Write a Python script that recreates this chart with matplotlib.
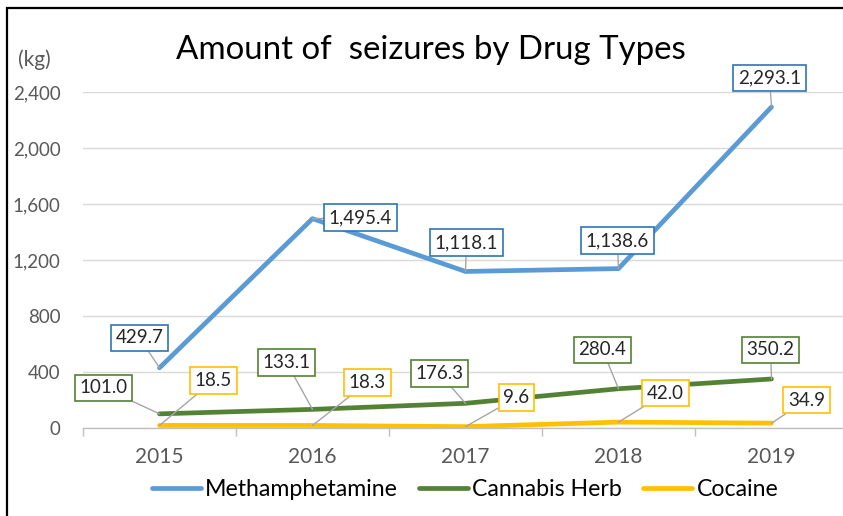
"""Amount of seizures by drug type, 2015-2019 (Excel-style line chart)."""

import numpy as np
import matplotlib
matplotlib.use("Agg")
import matplotlib.pyplot as plt
from matplotlib.patches import Rectangle

plt.rcParams.update({
    "font.family": ["Lato", "DejaVu Sans"],
    "figure.dpi": 100,
})

# Data
years = ["2015", "2016", "2017", "2018", "2019"]
methamphetamine = [429.7, 1495.4, 1118.1, 1138.6, 2293.1]
cannabis_herb = [101.0, 133.1, 176.3, 280.4, 350.2]
cocaine = [18.5, 18.3, 9.6, 42.0, 34.9]
y_ticks = [0, 400, 800, 1200, 1600, 2000, 2400]

# Style
COLORS = {"meth": "#5B9BD5", "cannabis": "#548235", "cocaine": "#FFC000"}
BOX_EDGES = {"meth": "#2E75B6", "cannabis": "#548235", "cocaine": "#FFC000"}
LEADER = "#A6A6A6"

# label offsets (pixels) from each data point to the centre of its box
label_offsets = {
    "meth": [(-20, 30), (48, 1), (1, 29), (-1, 28), (-2, 29)],
    "cannabis": [(-56, 26), (-26, 47), (-26, 30), (-16, 39), (-1, 29)],
    "cocaine": [(54, 45), (55, 43), (51, 29), (47, 29), (35, 23)],
}

W, H = 843, 516
fig = plt.figure(figsize=(W / 100, H / 100), dpi=100)
ax = fig.add_axes([83 / W, (H - 428) / H, (848 - 83) / W, (428 - 92) / H])

x = np.arange(len(years))
series = [
    ("meth", "Methamphetamine", methamphetamine),
    ("cannabis", "Cannabis Herb", cannabis_herb),
    ("cocaine", "Cocaine", cocaine),
]
for key, name, vals in series:
    ax.plot(x, vals, color=COLORS[key], lw=3.4, label=name,
            solid_capstyle="round", solid_joinstyle="round", zorder=3)

# Data labels with leader lines
for key, name, vals in series:
    for i, v in enumerate(vals):
        ax.annotate(
            f"{v:,.1f}",
            xy=(i, v),
            xytext=label_offsets[key][i],
            textcoords="offset pixels",
            ha="center", va="center",
            fontsize=13.5, color="#262626",
            bbox=dict(boxstyle="square,pad=0.25", fc="white",
                      ec=BOX_EDGES[key], lw=1.2),
            arrowprops=dict(arrowstyle="-", color=LEADER, lw=1,
                            shrinkA=0, shrinkB=0),
            zorder=5,
        )

ax.set_xlim(-0.5, len(years) - 0.5)
ax.set_ylim(0, 2400)

# category boundaries get tick marks, labels sit in the middle
ax.set_xticks(np.arange(-0.5, len(years), 1.0))
ax.set_xticklabels([])
ax.set_xticks(x, minor=True)
ax.set_xticklabels(years, minor=True, fontsize=15, color="#595959")
ax.tick_params(axis="x", which="major", length=6, width=1, color="#BFBFBF")
ax.tick_params(axis="x", which="minor", length=0, pad=14)

ax.set_yticks(y_ticks)
ax.set_yticklabels([f"{t:,}" for t in y_ticks], fontsize=13.5, color="#595959")
ax.tick_params(axis="y", length=0, pad=16)

ax.grid(axis="y", color="#D9D9D9", lw=1)
ax.set_axisbelow(True)
for side in ["left", "right", "top"]:
    ax.spines[side].set_visible(False)
ax.spines["bottom"].set_color("#BFBFBF")
ax.spines["bottom"].set_linewidth(1)

fig.text(431 / W, 1 - 50 / H, "Amount of  seizures by Drug Types",
         ha="center", va="center", fontsize=23.8, color="black")
fig.text(34 / W, 1 - 60 / H, "(kg)", ha="center", va="center",
         fontsize=15, color="#595959")

fig.legend(loc="center", bbox_to_anchor=(465 / W, 1 - 490 / H), ncol=3,
           frameon=False, fontsize=16.7, handlelength=2.1, handletextpad=0.2,
           columnspacing=0.9, borderaxespad=0)

# chart frame (right and bottom edges fall outside the picture)
fig.patches.append(Rectangle((7 / W, -0.1), 1.2, 1 - 8 / H + 0.1,
                             transform=fig.transFigure, fill=False,
                             ec="black", lw=1.6, clip_on=False))

fig.savefig("out.png", dpi=100)
plt.close(fig)
